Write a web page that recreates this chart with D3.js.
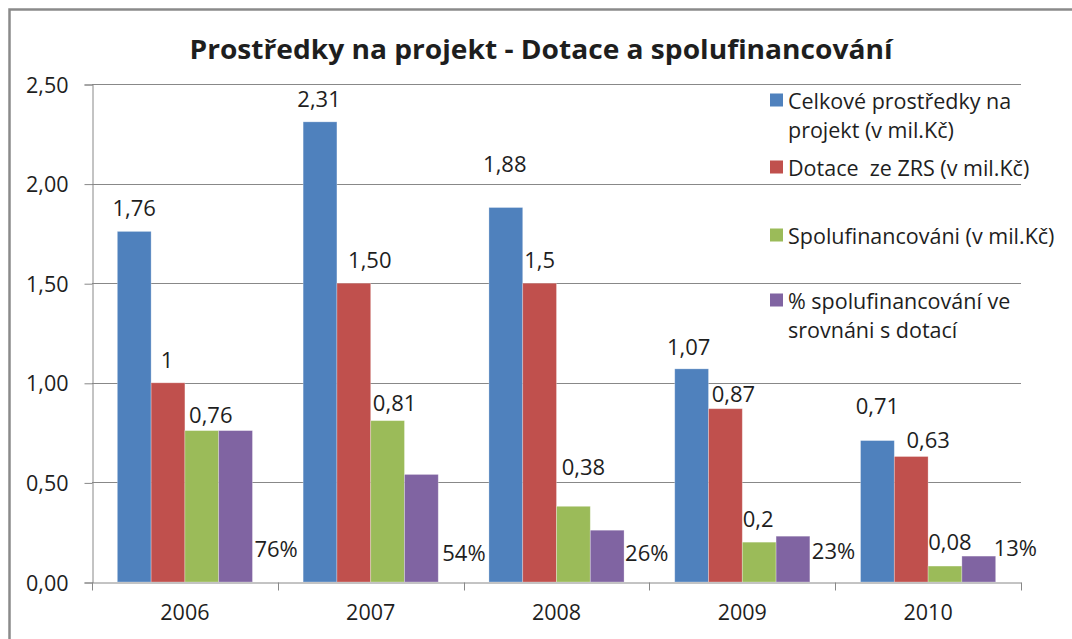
<!DOCTYPE html>
<html>
<head>
<meta charset="utf-8">
<script src="https://cdn.jsdelivr.net/npm/d3@7"></script>
<style>
  html, body { margin: 0; padding: 0; background: #fff; }
  svg { display: block; }
  text { font-family: "Open Sans", "Noto Sans", sans-serif; fill: #1e1e1e; white-space: pre; }
</style>
</head>
<body>
<svg id="chart" width="1072" height="639"></svg>
<script>
// ---- data ----
const years = ["2006", "2007", "2008", "2009", "2010"];
const seriesNames = [
  ["Celkové prostředky na", "projekt (v mil.Kč)"],
  ["Dotace  ze ZRS (v mil.Kč)"],
  ["Spolufinancováni (v mil.Kč)"],
  ["% spolufinancování ve", "srovnáni s dotací"]
];
const celkove = [1.76, 2.31, 1.88, 1.07, 0.71];
const dotace = [1.00, 1.50, 1.50, 0.87, 0.63];
const spolufin = [0.76, 0.81, 0.38, 0.20, 0.08];
const procento = [0.76, 0.54, 0.26, 0.23, 0.13];
const celkoveLabels = ["1,76", "2,31", "1,88", "1,07", "0,71"];
const dotaceLabels = ["1", "1,50", "1,5", "0,87", "0,63"];
const spolufinLabels = ["0,76", "0,81", "0,38", "0,2", "0,08"];
const procentoLabels = ["76%", "54%", "26%", "23%", "13%"];
const yTicks = [0, 0.5, 1.0, 1.5, 2.0, 2.5];
const yTickLabels = ["0,00", "0,50", "1,00", "1,50", "2,00", "2,50"];

// ---- layout / style (not data) ----
const colors = ["#4F81BD", "#C0504D", "#9BBB59", "#8064A2"];
// manual label nudges [dx, dy] from bar top centre (as placed in the original)
const labelNudge = [
  [[0, -24], [-1, -24], [-1, -45], [-3, -23], [0, -36]],
  [[-1, -24], [16, -24], [0, -24], [8, -16], [17, -18]],
  [[9, -17], [7, -19], [10, -40], [-1, -24], [5, -25]],
];
const pctLabelNudge = [[2, 548], [4, 552], [1, 552], [2, 550], [-2, 547]];
const legendY = [100, 167, 235, 300];

const values = [celkove, dotace, spolufin, procento];
const labels = [celkoveLabels, dotaceLabels, spolufinLabels, procentoLabels];

const svg = d3.select("#chart");
const plotL = 92, plotR = 1021, plotT = 84, plotB = 582;

const x = d3.scaleBand().domain(years).range([plotL, plotR]).paddingInner(0).paddingOuter(0);
const bw = x.bandwidth();
const gapHalf = bw * 0.75 / 5.5;
const x1 = d3.scaleBand().domain(d3.range(4)).range([gapHalf, bw - gapHalf]).padding(0);
const y = d3.scaleLinear().domain([0, 2.5]).range([plotB, plotT]);

// outer frame
svg.append("path")
  .attr("d", `M9.5,${639} L9.5,9.5 L1072,9.5`)
  .attr("fill", "none").attr("stroke", "#8a8a8a").attr("stroke-width", 2.5);

// title
svg.append("text")
  .attr("x", 541).attr("y", 48)
  .attr("text-anchor", "middle").attr("dominant-baseline", "central")
  .attr("font-size", 27).attr("font-weight", "bold")
  .attr("textLength", 703).attr("lengthAdjust", "spacingAndGlyphs")
  .text("Prostředky na projekt - Dotace a spolufinancování");

// gridlines
svg.append("g").selectAll("line").data(yTicks.filter(d => d > 0)).join("line")
  .attr("x1", plotL).attr("x2", plotR)
  .attr("y1", d => Math.round(y(d)) + 0.5).attr("y2", d => Math.round(y(d)) + 0.5)
  .attr("stroke", "#888").attr("stroke-width", 1);

// y axis
const yAxis = d3.axisLeft(y).tickValues(yTicks)
  .tickFormat((d, i) => yTickLabels[i]).tickSize(8).tickPadding(16);
const gy = svg.append("g").attr("transform", `translate(${plotL + 0.5},0.5)`).call(yAxis);
gy.select(".domain").attr("stroke", "#888");
gy.selectAll(".tick line").attr("stroke", "#888");
gy.selectAll(".tick text").attr("font-size", 21.5).attr("fill", "#1e1e1e")
  .attr("font-family", "'Open Sans', sans-serif").attr("dy", "0.35em");

// bars
const groups = svg.append("g").selectAll("g").data(years).join("g")
  .attr("transform", d => `translate(${x(d)},0)`);
groups.each(function(yr, j) {
  const g = d3.select(this);
  for (let s = 0; s < 4; s++) {
    g.append("rect")
      .attr("x", x1(s)).attr("width", x1.bandwidth())
      .attr("y", y(values[s][j])).attr("height", plotB - y(values[s][j]))
      .attr("fill", colors[s])
      .attr("stroke", "rgba(255,255,255,0.35)").attr("stroke-width", 0.8);
  }
});

// x axis
const xAxis = d3.axisBottom(x).tickSize(0).tickPadding(22);
const gx = svg.append("g").attr("transform", `translate(0,${plotB + 0.5})`).call(xAxis);
gx.select(".domain").attr("stroke", "#888");
gx.selectAll(".tick text").attr("font-size", 21.5).attr("fill", "#1e1e1e")
  .attr("font-family", "'Open Sans', sans-serif").attr("dy", "0.71em");
// category boundary ticks
const bounds = years.map(d => x(d)).concat([plotR]);
gx.append("g").selectAll("line").data(bounds).join("line")
  .attr("x1", d => Math.round(d) + 0.5).attr("x2", d => Math.round(d) + 0.5)
  .attr("y1", 0).attr("y2", 8).attr("stroke", "#888");

// value labels
const lab = svg.append("g").attr("font-size", 22);
years.forEach((yr, j) => {
  for (let s = 0; s < 3; s++) {
    const cx = x(yr) + x1(s) + x1.bandwidth() / 2 + labelNudge[s][j][0];
    const cy = y(values[s][j]) + labelNudge[s][j][1];
    lab.append("text").attr("x", cx).attr("y", cy)
      .attr("text-anchor", "middle").attr("dominant-baseline", "central")
      .text(labels[s][j]);
  }
  const px = x(yr) + x1(3) + x1.bandwidth() + pctLabelNudge[j][0];
  lab.append("text").attr("x", px).attr("y", pctLabelNudge[j][1])
    .attr("text-anchor", "start").attr("dominant-baseline", "central")
    .text(procentoLabels[j]);
});

// legend
const leg = svg.append("g");
seriesNames.forEach((lines, i) => {
  leg.append("rect").attr("x", 770).attr("y", legendY[i] - 6.5)
    .attr("width", 13).attr("height", 13).attr("fill", colors[i]);
  lines.forEach((t, k) => {
    leg.append("text").attr("x", 788).attr("y", legendY[i] + k * 29)
      .attr("dominant-baseline", "central").attr("font-size", 21.5)
      .text(t);
  });
});
</script>
</body>
</html>
